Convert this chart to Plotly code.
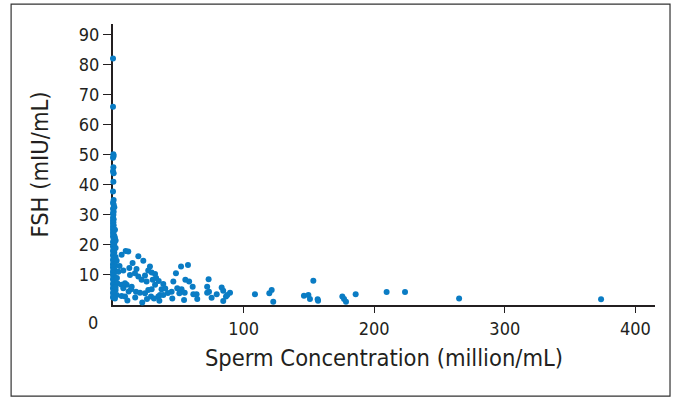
import plotly.graph_objects as go

# Sperm concentration (million/mL)
sperm = [
    0, 0, 0.3, 0.5, 0, 0.3, 0, 0.5, 0.3, 0, 0.5, 0, 0.5, 1, 0, 0.5, 0, 0.3, 0, 0.5,
    0, 0.3, 0, 0.5, 0, 0.3, 0, 0.5, 0, 0.3, 1, 0, 1.5, 0.5, 2, 0, 1, 0.3, 0, 1.5,
    0.5, 0, 1, 0.3, 0, 2, 0.5, 0, 1, 0.3, 2.8, 0, 1.5, 0.5, 0, 1, 0.3, 0, 4.1, 0.5,
    0, 1, 0.3, 0, 1.5, 0.5, 0, 3.3, 1, 0.3, 0, 2, 0.5, 0, 1, 2.8, 0.3, 0, 1.5,
    2, 1.5, 3, 2,
    6.6, 9.7, 11.7, 19.4, 23.2, 28.3, 12.5, 7.9, 13, 16.8, 19.4, 24.5, 21.9, 25.7,
    6.6, 10.5, 14.3, 7.9, 13.8, 17.6, 20.7, 24.5, 27, 6.6, 9.2, 22.4, 34.7, 9.2,
    29.6, 32.2, 30.4, 32.2, 29.6, 29.1, 31.4, 35.5, 36, 38.5, 37.2, 38.5,
    46.2, 48.2, 52.1, 57.4, 49.2, 52.5, 50.8, 54.9, 44.9, 45.4, 54.4, 55.4, 58.3,
    61, 61.5, 64, 64.5, 73.2, 72.1, 73.5, 72.1, 75.5, 79.4, 83.2, 84.4, 86.5, 84.4,
    89.6, 87.5, 108.7, 119.7, 121.5, 122.7, 146.2, 149.6, 150.8, 153.4, 156.7, 157,
    175.6, 176.9, 178.4, 185.8, 209.5, 223.6, 265, 373.7,
    5, 15, 18, 27, 33, 40, 42, 26, 17, 12, 11, 35,
]

# FSH (mIU/mL)
fsh = [
    82, 66, 50.2, 49.6, 49, 45.8, 44.5, 43.8, 41, 37.8, 34.9, 34, 33.4, 32.5, 32, 31, 30.5, 30, 29, 28.5,
    28, 27.5, 27, 26.5, 26, 25.5, 25, 24.5, 24, 23.5, 23, 22.8, 22.3, 22, 21.5, 21, 20.5, 20, 19.5, 19,
    18.5, 18, 17.5, 17, 16.5, 16, 15.5, 15, 14.5, 14, 14.7, 13.5, 13.4, 13, 12.5, 12, 11.5, 11, 11.1, 10.5,
    10, 9.5, 9, 8.5, 8, 7.5, 7, 7.2, 6.5, 6, 5.5, 5, 4.5, 4, 3.5, 3.3, 3, 2.5, 2.2,
    19, 25, 9, 6,
    16.7, 18, 17.8, 16.2, 14.7, 12.8, 12.3, 11.5, 10, 10.6, 9.5, 9.8, 8.4, 7.8,
    6.7, 6.7, 6.1, 5.6, 5.2, 4.4, 4.1, 3.9, 5, 3.0, 2.8, 0.8, 2.8, 7.2,
    10.8, 10.3, 8.4, 6.7, 5.2, 2.8, 2.2, 1.4, 3.3, 7, 5.2, 3.3,
    7.8, 10.6, 12.8, 13.3, 5.6, 5.2, 3.9, 4.1, 4.4, 2.2, 1.7, 8.4, 7.8,
    6.1, 3.6, 3.6, 2.0, 8.6, 6.1, 4.4, 4.1, 2.4, 3.6, 5.8, 4.7, 2.8, 1.3,
    4.1, 3.3, 3.6, 3.9, 5.0, 1.1, 3.1, 3.3, 2.0, 8.1, 1.9, 1.4,
    2.8, 2.0, 1.1, 3.6, 4.3, 4.3, 2.2, 1.9,
    13, 14, 12, 11.5, 9, 5.5, 4, 2, 2.5, 4.5, 1.5, 8,
]

y_ticks = [10, 20, 30, 40, 50, 60, 70, 80, 90]
x_ticks = [100, 200, 300, 400]

FONT = "Liberation Sans Narrow, DejaVu Sans Condensed, Arial Narrow, sans-serif"
AX = "#231f20"

fig = go.Figure(
    go.Scatter(
        x=sperm, y=fsh, mode="markers",
        marker=dict(color="#0a7cc4", size=6, line=dict(width=0)),
        cliponaxis=False, hoverinfo="x+y",
    )
)

fig.update_layout(
    width=679, height=401,
    margin=dict(l=113, r=24, t=24, b=96, autoexpand=False),
    paper_bgcolor="white", plot_bgcolor="white",
    showlegend=False,
    font=dict(family=FONT, color=AX),
    xaxis=dict(
        range=[0, 415], tickvals=x_ticks, ticktext=[str(v) for v in x_ticks],
        showgrid=False, zeroline=False, showline=True, linecolor=AX, linewidth=2,
        ticks="outside", ticklen=6, tickwidth=1.2, tickcolor=AX, automargin=False,
        tickfont=dict(size=18, family=FONT, color=AX), layer="below traces",
        title=dict(text="Sperm Concentration (million/mL)", font=dict(size=23.5, family=FONT, color=AX), standoff=12),
    ),
    yaxis=dict(
        range=[0, 93.5], tickvals=y_ticks, ticktext=[str(v) for v in y_ticks],
        showgrid=False, zeroline=False, showline=True, linecolor=AX, linewidth=2,
        ticks="outside", ticklen=8, tickwidth=1.2, tickcolor=AX, automargin=False,
        tickfont=dict(size=18, family=FONT, color=AX), layer="below traces",
        title=dict(text="FSH (mIU/mL)", font=dict(size=23.5, family=FONT, color=AX), standoff=24),
    ),
    shapes=[dict(
        type="rect", xref="paper", yref="paper",
        x0=-0.188, x1=1.0277, y0=-0.324, y1=1.071,
        line=dict(color="#333333", width=1.2), fillcolor="rgba(0,0,0,0)",
    )],
    annotations=[dict(
        text="0", xref="paper", yref="paper", x=-0.037, y=-0.064,
        xanchor="center", yanchor="middle", showarrow=False,
        font=dict(size=18, family=FONT, color=AX),
    )],
)

fig.write_html(
    "out.html",
    config={"displayModeBar": False},
    post_script="document.body.style.margin='0px';",
)
